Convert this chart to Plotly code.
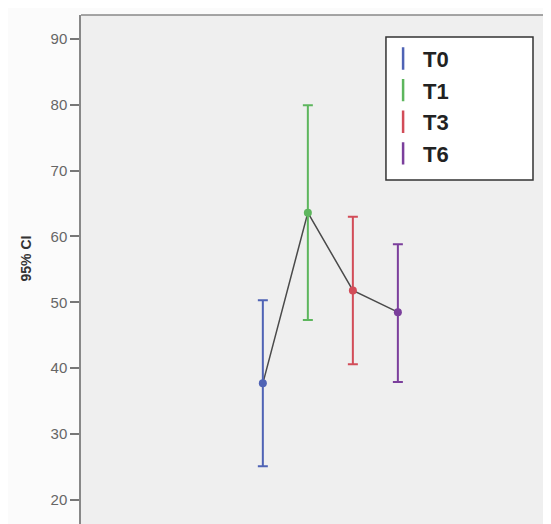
import plotly.graph_objects as go

groups = ["T0", "T1", "T3", "T6"]
means = [37.7, 63.6, 51.8, 48.5]
upper = [50.3, 79.9, 63.0, 58.8]
lower = [25.1, 47.3, 40.6, 37.9]
colors = ["#4f63b5", "#5db65d", "#d24c58", "#7b3f9c"]
x_pos = [0, 1, 2, 3]

fig = go.Figure()

# connecting line through the means
fig.add_trace(go.Scatter(
    x=x_pos, y=means, mode="lines",
    line=dict(color="#4a4a4a", width=1.5),
    showlegend=False, hoverinfo="skip"))

for g, m, u, l, c, x in zip(groups, means, upper, lower, colors, x_pos):
    fig.add_trace(go.Scatter(
        x=[x], y=[m], mode="markers",
        marker=dict(color=c, size=8, line=dict(width=0)),
        error_y=dict(type="data", symmetric=False,
                     array=[u - m], arrayminus=[m - l],
                     color=c, thickness=2, width=5),
        showlegend=False, name=g))
    # legend entry
    fig.add_trace(go.Scatter(
        x=[None], y=[None], mode="markers", name=g,
        marker=dict(symbol="line-ns-open", color=c, size=22,
                    line=dict(color=c, width=2.5)),
        showlegend=True))

fig.update_layout(
    width=551, height=524,
    margin=dict(l=73, r=0, t=7, b=0),
    paper_bgcolor="#fbfbfb",
    plot_bgcolor="#efefef",
    font=dict(family="Liberation Sans, Arial, sans-serif", color="#666666"),
    showlegend=True,
    legend=dict(
        x=0.632, y=0.956, xanchor="left", yanchor="top",
        bgcolor="rgba(0,0,0,0)", borderwidth=0,
        font=dict(size=22, color="#222222", family="Liberation Sans, Arial, sans-serif",
                  weight="bold"),
        itemwidth=30, tracegroupgap=0,
    ),
    xaxis=dict(range=[-4.04, 6.58], showticklabels=False, showgrid=False,
               zeroline=False, ticks="", showline=False),
    yaxis=dict(range=[15.14, 93.6], tickvals=[20, 30, 40, 50, 60, 70, 80, 90],
               ticks="outside", ticklen=9, tickwidth=1.5, tickcolor="#777777",
               showline=True, linecolor="#888888", linewidth=1.5,
               showgrid=False, zeroline=False,
               tickfont=dict(size=15, color="#666666")),
)

# y-axis title
fig.add_annotation(text="<b>95% CI</b>", xref="paper", yref="paper",
                   x=-0.135, y=0.53, textangle=-90, showarrow=False,
                   font=dict(size=14, color="#333333"))

# legend frame
fig.add_shape(type="rect", xref="paper", yref="paper",
              x0=0.638, x1=0.9456, y0=0.681, y1=0.9574,
              fillcolor="#ffffff", line=dict(color="#333333", width=1.5),
              layer="below")

# top border of the plot frame
fig.add_shape(type="line", xref="paper", yref="paper", x0=0, x1=1, y0=1, y1=1,
              line=dict(color="#888888", width=1.5))

fig.write_html("out.html")
